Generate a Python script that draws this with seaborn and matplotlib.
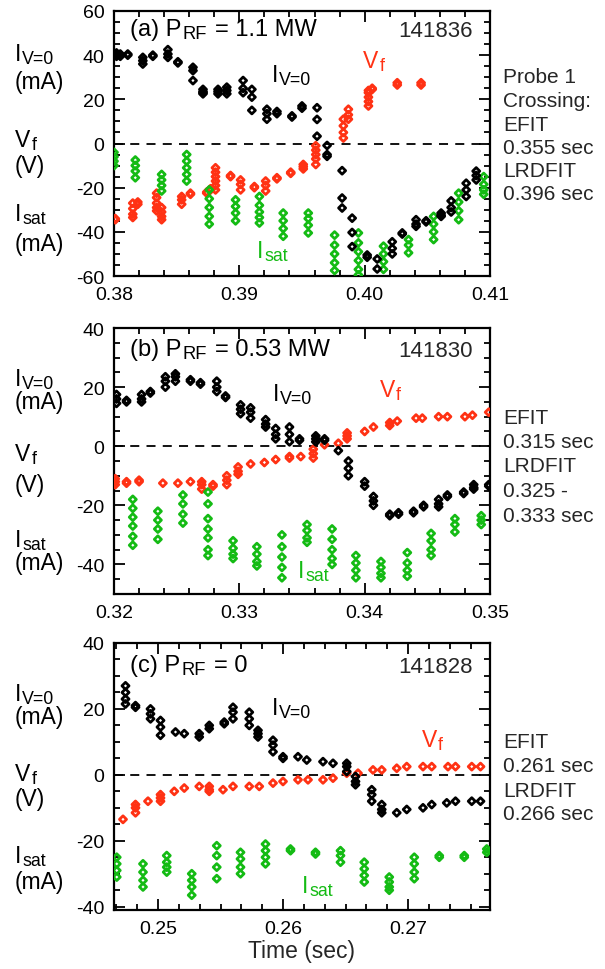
import matplotlib
matplotlib.use("Agg")
import matplotlib.pyplot as plt
import seaborn as sns
import pandas as pd
from matplotlib.ticker import AutoMinorLocator

# ---------------- data (time [s], values at that time) ----------------
# Panel (a) 141836, P_RF = 1.1 MW
a_iv0 = [(0.3802, [41, 40, 39.5]), (0.3805, [40.5, 39.5]), (0.3811, [40.5, 40]),
         (0.3823, [39, 37.5, 36]), (0.3831, [40, 39.5]), (0.3843, [42.5, 40.5, 39]),
         (0.3851, [37, 36.5]), (0.3863, [34.5, 33, 28.5]), (0.3871, [24.5, 23.5, 23, 22.5]),
         (0.3883, [24.5, 23.5, 22.5]), (0.3890, [25.5, 24, 22.5]), (0.3903, [28.5, 25, 23]),
         (0.3910, [24.5, 21, 15]), (0.3922, [15.5, 13.5, 11]), (0.3930, [14.5, 13.5]),
         (0.3942, [12.5, 12]), (0.3950, [17, 16]), (0.3962, [16.2, 10.9, 3.3]),
         (0.3970, [-0.9, -5, -5.8]), (0.3982, [-12.3, -24.7, -29.2]),
         (0.3990, [-33.8, -40.3, -46.7]), (0.4002, [-50.5, -51.5]), (0.4010, [-52.3, -56.8]),
         (0.4022, [-44.5, -47.5, -50]), (0.4030, [-40.5, -41]), (0.4041, [-34.5, -36.5, -37.5]),
         (0.4049, [-35, -35.5]), (0.4061, [-31.5, -32.5, -33]), (0.4069, [-26, -29, -31]),
         (0.4081, [-18, -21, -24]), (0.4089, [-12.5, -14.5, -16.5])]
a_vf = [(0.3801, [-34, -34.5]), (0.3815, [-27, -29.5, -32, -33.5]), (0.3819, [-26.5, -27.5]),
        (0.3834, [-22.5, -24.5, -27, -29, -30.5]), (0.3838, [-29, -31, -33, -34.5]),
        (0.3854, [-24, -25.5, -27.5]), (0.3861, [-22.5, -23]), (0.3874, [-22, -22.5]),
        (0.3877, [-20.5, -21]), (0.3881, [-11, -13, -15, -17, -19, -21]), (0.3893, [-14.5, -15]),
        (0.3901, [-16.5, -18.5, -21]), (0.3912, [-19.5, -20]), (0.3921, [-17, -19, -21.5]),
        (0.3930, [-15.5, -16]), (0.3941, [-13, -13.5]), (0.3951, [-9.5, -10.5, -11.5]),
        (0.3961, [-1, -3, -5, -7, -9.5]), (0.3983, [2.5, 5, 8, 11]), (0.3987, [11, 13, 15.5]),
        (0.4003, [17, 19, 21, 23, 24]), (0.4006, [24.5, 25]), (0.4026, [26.5, 27.5]),
        (0.4045, [26.5, 27.5])]
a_isat = [(0.3800, [-4, -6, -8, -10]), (0.3817, [-7.5, -10, -12.5, -15.5]),
          (0.3838, [-14, -16.5, -19, -21.5]), (0.3858, [-5, -8, -11, -14, -17]),
          (0.3876, [-21, -25, -29, -33, -36.5]), (0.3897, [-25.5, -28.5, -31.5, -35]),
          (0.3916, [-24, -28, -31, -33.5, -36]), (0.3935, [-31.5, -35, -38.5, -42]),
          (0.3955, [-31.5, -34, -37, -40.5]), (0.3976, [-41.5, -46, -50, -54, -57.5]),
          (0.3995, [-40.5, -45, -49, -53, -57, -59.5]), (0.4015, [-46.5, -50, -53.5, -57]),
          (0.4035, [-43.5, -46, -49.5]), (0.4055, [-33, -36.5, -40, -43.5]),
          (0.4075, [-22.5, -26.5, -30.5, -34.5]), (0.4095, [-15, -18.5, -21, -23])]

# Panel (b) 141830, P_RF = 0.53 MW
b_iv0 = [(0.3202, [17.5, 16, 14.5]), (0.3210, [15.5, 15]), (0.3222, [17.5, 16, 15]),
         (0.3229, [18.5, 18]), (0.3241, [23.5, 22, 20]), (0.3249, [24.5, 23.5, 22]),
         (0.3261, [22.5, 22]), (0.3269, [21.5, 21]), (0.3282, [22, 20, 18.5]),
         (0.3289, [17, 16.5]), (0.3301, [14, 12.5, 11]), (0.3309, [13, 11.5, 9.5]),
         (0.3321, [9, 7.5, 6.5]), (0.3329, [6, 4, 2.5]), (0.3340, [6.5, 4, 1.5]),
         (0.3348, [2.5, 2]), (0.3361, [3.5, 2.5, 1.5]), (0.3368, [2.5, 2]), (0.3379, [-1.5]),
         (0.3387, [-5, -7.5, -10]), (0.3400, [-12, -13.5]), (0.3407, [-17, -18.5, -20]),
         (0.3420, [-23, -23.5]), (0.3427, [-22.5, -23]), (0.3439, [-22.5, -22]),
         (0.3447, [-20.5, -20]), (0.3459, [-18, -19.5, -20.5]), (0.3466, [-17, -16.5]),
         (0.3479, [-16, -15.5]), (0.3487, [-13, -14, -14.5]), (0.3499, [-13.5, -13])]
b_vf = [(0.3201, [-11, -12, -13]), (0.3210, [-12, -12.5]), (0.3220, [-11.5, -12]),
        (0.3239, [-12.5]), (0.3251, [-12.5]), (0.3261, [-12]), (0.3270, [-12, -13, -14.5]),
        (0.3279, [-13, -13.5]), (0.3290, [-10, -11.5, -13]), (0.3299, [-7, -8.5, -9.5]),
        (0.3309, [-6]), (0.3320, [-5.5]), (0.3329, [-4.5]), (0.3340, [-3.5, -4]),
        (0.3349, [-3.5]), (0.3359, [-1, -2.5, -4]), (0.3368, [0.5]), (0.3379, [1]),
        (0.3386, [2.5, 3.5, 4.5]), (0.3400, [5]), (0.3407, [6.5]), (0.3420, [7, 8]),
        (0.3426, [8.5]), (0.3441, [9.5]), (0.3446, [9.5]), (0.3459, [10]), (0.3466, [10]),
        (0.3480, [10]), (0.3486, [10.5]), (0.3499, [11.5])]
b_isat = [(0.3215, [-18, -21, -24, -27, -30.5, -33.5]), (0.3235, [-22, -25, -28, -31.5]),
          (0.3255, [-16.5, -19.5, -23, -26]), (0.3275, [-15.5, -19.5, -24.5, -28, -31, -35, -37]),
          (0.3295, [-32, -34.5, -36.5, -38]), (0.3314, [-34, -36.5, -39, -40.5]),
          (0.3334, [-30, -34, -37.5, -41, -44.5]), (0.3354, [-26.5, -28.5, -31, -32.5]),
          (0.3374, [-28, -31.5, -35, -38, -40]), (0.3393, [-37, -39.5, -42, -44.5]),
          (0.3413, [-39, -41, -43, -44.5]), (0.3434, [-36, -39.5, -42, -44]),
          (0.3453, [-29.5, -32, -35, -37]), (0.3472, [-24.5, -26.5, -29]),
          (0.3493, [-23.5, -25, -26.5])]

# Panel (c) 141828, P_RF = 0
c_iv0 = [(0.2474, [27, 25, 23, 21.5]), (0.2482, [21, 20.5]), (0.2494, [20, 18.5, 17]),
         (0.2502, [16.5, 14.5, 12]), (0.2514, [13]), (0.2521, [12.5]), (0.2533, [12.5, 11.5]),
         (0.2541, [15, 14]), (0.2553, [16, 15.5]), (0.2560, [20.5, 19, 17]),
         (0.2573, [19, 17, 15]), (0.2580, [13.5, 12.5, 11.5]), (0.2592, [10.5, 9, 7]),
         (0.2600, [5.5, 5]), (0.2612, [5.5]), (0.2619, [4.5]), (0.2632, [4]), (0.2640, [3.5]),
         (0.2651, [3.5, 2.5, 1]), (0.2658, [-0.5, -2, -3]), (0.2671, [-4.5, -6, -8]),
         (0.2679, [-9, -10.5, -11.5]), (0.2691, [-11.5]), (0.2699, [-10.5]), (0.2712, [-10]),
         (0.2719, [-9]), (0.2731, [-8.5]), (0.2738, [-8]), (0.2751, [-8]), (0.2758, [-8])]
c_vf = [(0.2472, [-13.5]), (0.2482, [-9, -10, -11.5]), (0.2492, [-8]), (0.2502, [-6, -7, -8]),
        (0.2513, [-5]), (0.2521, [-4]), (0.2533, [-3.5]), (0.2541, [-3.5, -4.5, -5]),
        (0.2552, [-4.5]), (0.2560, [-3.5]), (0.2573, [-3.5]), (0.2581, [-3.5]),
        (0.2592, [-2.5]), (0.2600, [-2]), (0.2612, [-1.5]), (0.2620, [-1.5]), (0.2632, [-1.5]),
        (0.2640, [-1]), (0.2651, [0.5]), (0.2660, [0.5]), (0.2672, [1.5]), (0.2679, [1.5]),
        (0.2691, [2]), (0.2699, [2.5]), (0.2712, [2.5]), (0.2719, [2.5]), (0.2732, [2.5]),
        (0.2738, [2.5]), (0.2751, [2.5]), (0.2758, [2.5])]
c_isat = [(0.2467, [-25, -27, -29, -31]), (0.2488, [-27, -29.5, -32, -34]),
          (0.2507, [-24.5, -26.5, -28, -29.5]), (0.2527, [-30, -32, -34, -36.5]),
          (0.2547, [-21.5, -24.5, -28, -31.5]), (0.2566, [-23.5, -25.5, -28, -30]),
          (0.2586, [-21, -23, -25, -27]), (0.2606, [-22.5, -23]), (0.2626, [-23.5, -24]),
          (0.2646, [-23, -24.5, -26.5]), (0.2665, [-26.5, -28.5, -30.5, -32.5]),
          (0.2685, [-31, -32.5, -34, -35]), (0.2705, [-25, -27, -29.5, -31.5]),
          (0.2725, [-24.5, -25]), (0.2745, [-24.5, -25]), (0.2763, [-22.5, -23.5])]

panel_tags = [[("(a) P", False), ("RF", True), ("= 1.1 MW", False)],
              [("(b) P", False), ("RF", True), ("= 0.53 MW", False)],
              [("(c) P", False), ("RF", True), ("= 0", False)]]
shots = ["141836", "141830", "141828"]
xlims = [(0.38, 0.41), (0.32, 0.35), (0.24648, 0.27656)]
ylims = [(-60, 60), (-50, 40), (-41, 40)]
xticks = [[0.38, 0.39, 0.40, 0.41], [0.32, 0.33, 0.34, 0.35], [0.25, 0.26, 0.27]]
xticklabels = [["0.38", "0.39", "0.40", "0.41"], ["0.32", "0.33", "0.34", "0.35"],
               ["0.25", "0.26", "0.27"]]
yticks = [[-60, -40, -20, 0, 20, 40, 60], [-40, -20, 0, 20, 40], [-40, -20, 0, 20, 40]]
right_notes = [["Probe 1", "Crossing:", "EFIT", "0.355 sec", "LRDFIT", "0.396 sec"],
               ["EFIT", "0.315 sec", "LRDFIT", "0.325 -", "0.333 sec"],
               ["EFIT", "0.261 sec", "LRDFIT", "0.266 sec"]]
series = [(a_vf, a_isat, a_iv0), (b_vf, b_isat, b_iv0), (c_vf, c_isat, c_iv0)]

BLACK, RED, GREEN = "#000000", "#ff3214", "#14bb14"

# ---------------- style ----------------
sns.set_style("ticks")
plt.rcParams["font.family"] = ["Liberation Sans", "DejaVu Sans"]
plt.rcParams["axes.unicode_minus"] = False

W, H = 605, 970
fig = plt.figure(figsize=(W / 100, H / 100), dpi=100)
renderer = fig.canvas.get_renderer()


def fx(px):
    return px / W


def fy(py):
    return 1 - py / H


def rich(px, base, parts, size, color="black", gap_after_sub=1.0):
    """Draw text pieces one after another; subscript pieces smaller and lowered."""
    x = px
    for s, sub in parts:
        fs = size * 0.78 if sub else size
        yb = base + (size * 0.17 if sub else 0)
        t = fig.text(fx(x), fy(yb), s, fontsize=fs, color=color, va="baseline", ha="left")
        bb = t.get_window_extent(renderer)
        x = bb.x1 + (gap_after_sub if sub else 1)


IV0 = [("I", False), ("V=0", True)]
VF = [("V", False), ("f", True)]
ISAT = [("I", False), ("sat", True)]

boxes = [(12, 277), (329, 595), (644, 911)]
left_px, right_px = 114, 490
xminor = [5, 5, 6]

left_lab = [[(IV0, 61), ([("(mA)", False)], 89), (VF, 147), ([("(V)", False)], 173),
             (ISAT, 221), ([("(mA)", False)], 251)],
            [(IV0, 386), ([("(mA)", False)], 409), (VF, 461), ([("(V)", False)], 492),
             (ISAT, 547), ([("(mA)", False)], 570)],
            [(IV0, 701), ([("(mA)", False)], 724), (VF, 781), ([("(V)", False)], 806),
             (ISAT, 863), ([("(mA)", False)], 889)]]
right_base = [[83, 107, 131, 154, 177, 200], [424, 448, 472, 497, 522], [748, 772, 797, 820]]
tag_base = [36, 356, 672]
inside = [[(IV0, 272, 82, BLACK), (VF, 363, 68, RED), (ISAT, 257, 258, GREEN)],
          [(IV0, 273, 401, BLACK), (VF, 380, 397, RED), (ISAT, 298, 578, GREEN)],
          [(IV0, 272, 715, BLACK), (VF, 422, 747, RED), (ISAT, 302, 893, GREEN)]]


def to_df(clusters):
    rows = [(t, v) for t, vals in clusters for v in vals]
    return pd.DataFrame(rows, columns=["t", "v"])


for i in range(3):
    top, bot = boxes[i]
    ax = fig.add_axes([fx(left_px), fy(bot), fx(right_px - left_px), (bot - top) / H])
    ax.axhline(0, color="black", lw=1.3, ls=(0, (5, 4)), zorder=1)
    for data, col in zip(series[i], [RED, GREEN, BLACK]):
        df = to_df(data)
        sns.scatterplot(data=df, x="t", y="v", ax=ax, marker="D", s=13, color=col,
                        linewidth=2.0, zorder=3, legend=False)
        pts = ax.collections[-1]
        pts.set_facecolor("none")
        pts.set_edgecolor(col)
    ax.set_xlim(*xlims[i])
    ax.set_ylim(*ylims[i])
    ax.set_xticks(xticks[i])
    ax.set_xticklabels(xticklabels[i])
    ax.set_yticks(yticks[i])
    ax.set_yticklabels([str(v) for v in yticks[i]])
    ax.xaxis.set_minor_locator(AutoMinorLocator(xminor[i]))
    ax.yaxis.set_minor_locator(AutoMinorLocator(4))
    ax.tick_params(which="both", direction="in", top=True, right=True, width=1.3,
                   labelsize=14, pad=7, colors="black")
    ax.tick_params(which="major", length=8)
    ax.tick_params(which="minor", length=4)
    for sp in ax.spines.values():
        sp.set_linewidth(1.6)
        sp.set_color("black")
    ax.set_xlabel("")
    ax.set_ylabel("")

    rich(130, tag_base[i], panel_tags[i], 17, gap_after_sub=8)
    fig.text(fx(473), fy(tag_base[i] + 1), shots[i], fontsize=16, va="baseline", ha="right")
    for parts, base in left_lab[i]:
        rich(15, base, parts, 16.5)
    for txt, base in zip(right_notes[i], right_base[i]):
        fig.text(fx(503), fy(base), txt, fontsize=15, va="baseline", ha="left")
    for parts, px, base, col in inside[i]:
        rich(px, base, parts, 16.5, col)

fig.text(fx(302), fy(958), "Time (sec)", fontsize=16.5, ha="center", va="baseline")

fig.savefig("out.png", dpi=100)
